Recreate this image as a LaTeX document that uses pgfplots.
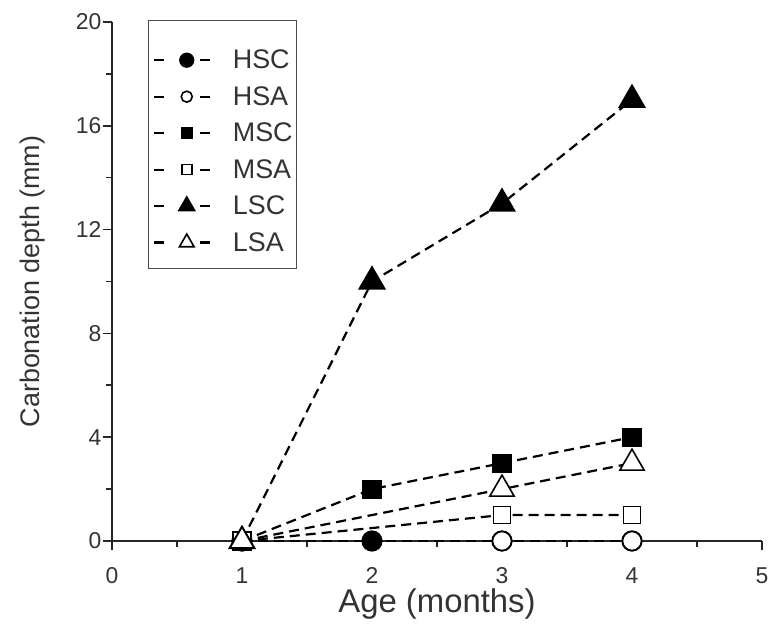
\documentclass[border=0pt]{standalone}
\usepackage{fontspec}
\setmainfont{Liberation Sans}
\usepackage{pgfplots}
\pgfplotsset{compat=1.18}
\definecolor{txt}{HTML}{333333}
\pgfplotsset{
    lgimg/.style 2 args={legend image code/.code={
        \draw[##1, solid, line width=2.2bp] (2bp,0bp) -- (12bp,0bp);
        \draw[##1, solid, line width=2.2bp] (48bp,0bp) -- (58bp,0bp);
        \draw[##1, solid, mark size=#1] plot coordinates {(35bp,0bp)};
        \path (0bp,0bp) (78bp,0bp) (0bp,#2);}},
}
\begin{document}
\begin{tikzpicture}[x=1bp,y=1bp]
\begin{axis}[
    scale only axis,
    width=650bp, height=519bp,
    xmin=0, xmax=5, ymin=0, ymax=20,
    axis x line*=bottom, axis y line*=left,
    axis line style={line width=2.2bp, color=black!85},
    xtick={0,1,2,3,4,5}, ytick={0,4,8,12,16,20},
    minor xtick={0.5,1.5,2.5,3.5,4.5}, minor ytick={2,6,10,14,18},
    tick style={line width=1.6bp, black!85},
    major tick length=9bp, minor tick length=6bp,
    tick align=outside,
    /pgf/number format/assume math mode=true,
    ticklabel style={font=\fontsize{23}{27}\selectfont, text=txt},
    xticklabel style={yshift=-14bp},
    yticklabel style={xshift=2bp},
    xlabel={Age (months)}, ylabel={Carbonation depth (mm)},
    xlabel style={font=\fontsize{33}{38}\selectfont, text=txt,
        at={(axis description cs:0.5,-0.137)}, anchor=base},
    ylabel style={font=\fontsize{27}{32}\selectfont, text=txt,
        at={(axis description cs:-0.1215,0.5)}, anchor=center},
    clip=false,
    every axis plot/.append style={line width=2.2bp, dash pattern=on 10bp off 6bp, black, mark size=9.5bp},
    legend style={at={(rel axis cs:0.0554,1.0039)}, anchor=north west,
        draw=black!70, line width=1.3bp, font=\fontsize{27}{30}\selectfont, text=txt,
        row sep=12.2bp, inner xsep=2bp, inner ysep=13.5bp},
    legend cell align=left,
]
\addplot[mark=*, lgimg={6.5bp}{25bp}, mark options={solid, fill=black}] coordinates {(1,0) (2,0) (3,0) (4,0)};
\addlegendentry{HSC}
\addplot[mark=*, lgimg={5.5bp}{0bp}, mark options={solid, fill=white, line width=1.6bp}] coordinates {(1,0) (3,0) (4,0)};
\addlegendentry{HSA}
\addplot[mark=square*, lgimg={5bp}{0bp}, mark size=8.5bp, mark options={solid, fill=black}] coordinates {(1,0) (2,2) (3,3) (4,4)};
\addlegendentry{MSC}
\addplot[mark=square*, lgimg={5bp}{0bp}, mark size=8.5bp, mark options={solid, fill=white, line width=1.6bp}] coordinates {(1,0) (3,1) (4,1)};
\addlegendentry{MSA}
\addplot[mark=triangle*, lgimg={8.5bp}{0bp}, mark size=14bp, mark options={solid, fill=black}] coordinates {(1,0) (2,10) (3,13) (4,17)};
\addlegendentry{LSC}
\addplot[mark=triangle*, lgimg={8.5bp}{0bp}, mark size=14bp, mark options={solid, fill=white, line width=1.6bp}] coordinates {(1,0) (3,2) (4,3)};
\addlegendentry{LSA}
\end{axis}
\pgfresetboundingbox
\path (-112bp,-87bp) rectangle (656bp,541bp);
\end{tikzpicture}
\end{document}
